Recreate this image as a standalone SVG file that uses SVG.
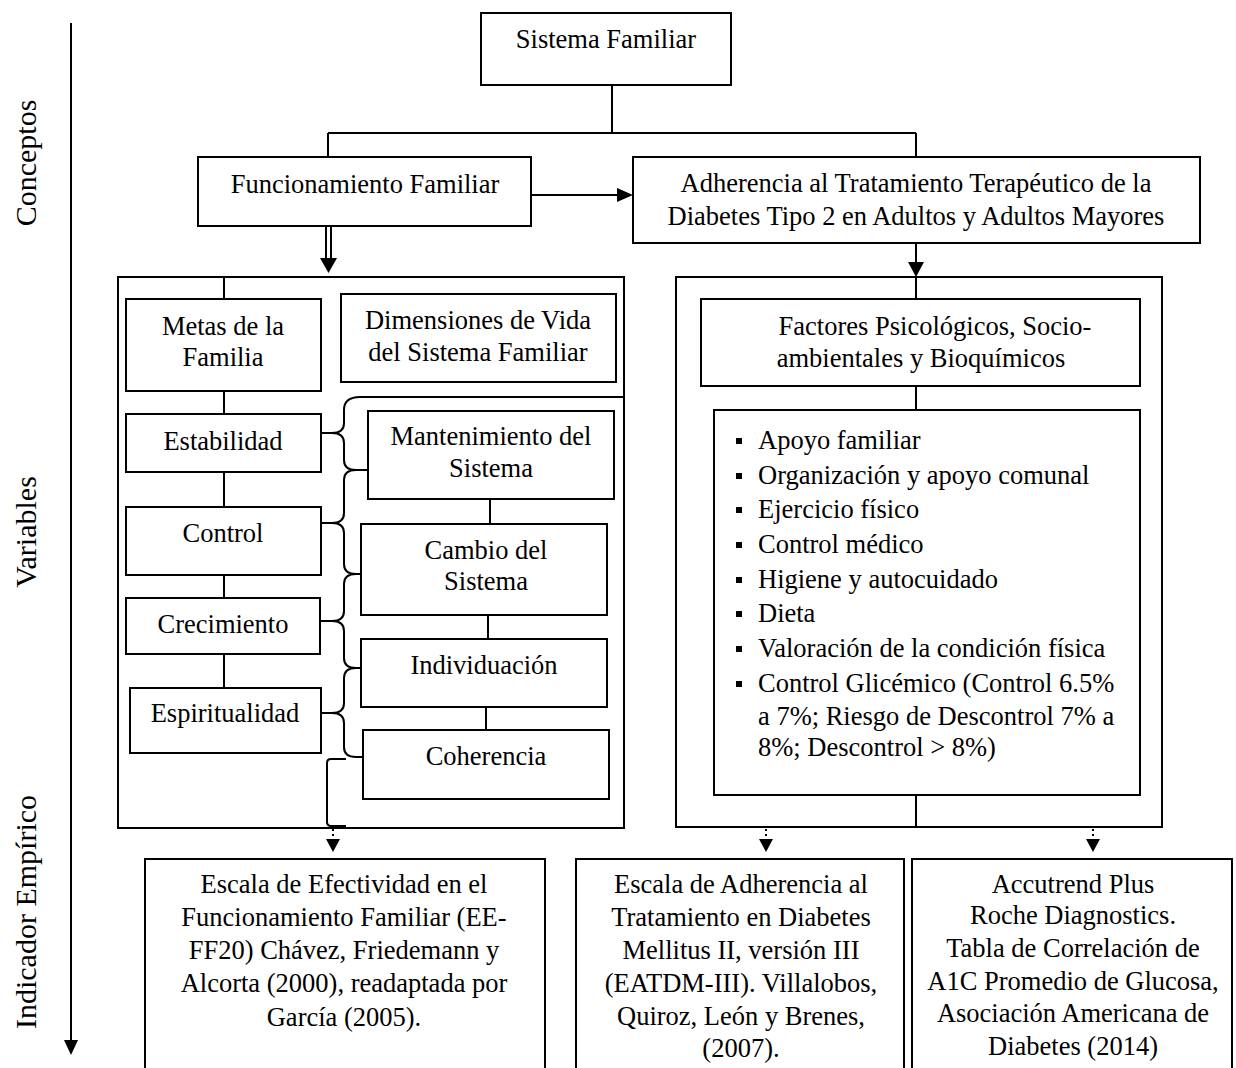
<svg xmlns="http://www.w3.org/2000/svg" width="1236" height="1068" viewBox="0 0 1236 1068">
<style>
.b{fill:#fff;stroke:#000;stroke-width:2}
.l{fill:none;stroke:#000;stroke-width:2}
.d{fill:none;stroke:#000;stroke-width:2;stroke-dasharray:2 3}
.t{font-family:"Liberation Serif","Times New Roman",serif;font-size:26.5px;fill:#000}
.c{text-anchor:middle}
.ax{font-family:"Liberation Serif","Times New Roman",serif;font-size:30px;fill:#000;text-anchor:middle}
.h{fill:#000}
</style>
<rect width="1236" height="1068" fill="#fff"/>

<g id="axis">
<line x1="71" y1="23" x2="71" y2="1042" class="l"/>
<polygon points="64,1040 78,1040 71,1055" class="h"/>
<text class="ax" transform="translate(36,163) rotate(-90)">Conceptos</text>
<text class="ax" transform="translate(36,532) rotate(-90)">Variables</text>
<text class="ax" transform="translate(36,912) rotate(-90)">Indicador Empírico</text>
</g>

<g id="connectors">
<path class="l" d="M612 85 V133 M328 133 H916 M328 133 V157 M916 133 V157"/>
<line x1="531" y1="195" x2="619" y2="195" class="l"/>
<polygon points="617,188 633,195 617,202" class="h"/>
<path class="l" d="M326 226 V259 M331 226 V259"/>
<polygon points="320,258 337,258 328.5,273" class="h"/>
<line x1="916" y1="243" x2="916" y2="263" class="l"/>
<polygon points="908,262 924,262 916,277" class="h"/>
<path class="l" d="M224 277 V299 M224 391 V414 M224 472 V507 M224 575 V598 M224 654 V688"/>
<path class="l" d="M490 499 V524 M488 615 V639 M486 707 V730"/>
<path class="l" d="M916 277 V299 M916 386 V410 M916 795 V827"/>
<path class="l" d="M624 397 L360 397 Q344 397 344 410 L344 423 Q344 433 332 433 L322 433 M332 433 Q344 433 344 443 L344 460 Q344 470 356 470 L368 470 M356 470 Q344 470 344 480 L344 513 Q344 523 332 523 L322 523 M332 523 Q344 523 344 533 L344 564 Q344 574 356 574 L361 574 M356 574 Q344 574 344 584 L344 611 Q344 621 332 621 L320 621 M332 621 Q344 621 344 631 L344 658 Q344 668 356 668 L361 668 M356 668 Q344 668 344 678 L344 703 Q344 713 332 713 L322 713 M332 713 Q344 713 344 723 L344 747 Q344 757 356 757 L363 757"/>
<path class="l" d="M346 759 L331 759 Q327 759 327 763 L327 822 Q327 826 331 826 L346 826"/>
<line x1="333" y1="829" x2="333" y2="840" class="d"/>
<polygon points="326,839 340,839 333,852" class="h"/>
<line x1="766" y1="829" x2="766" y2="840" class="d"/>
<polygon points="759,839 773,839 766,852" class="h"/>
<line x1="1093" y1="829" x2="1093" y2="840" class="d"/>
<polygon points="1086,839 1100,839 1093,852" class="h"/>
</g>

<g id="sistema-familiar">
<rect x="481" y="13" width="250" height="72" class="b"/>
<text class="t c" x="606" y="48">Sistema Familiar</text>
</g>

<g id="funcionamiento-familiar">
<rect x="198" y="157" width="333" height="69" class="b"/>
<text class="t c" x="365" y="193">Funcionamiento Familiar</text>
</g>

<g id="adherencia">
<rect x="633" y="157" width="567" height="86" class="b"/>
<text class="t c" x="916" y="192">Adherencia al Tratamiento Terapéutico de la</text>
<text class="t c" x="916" y="225">Diabetes Tipo 2 en Adultos y Adultos Mayores</text>
</g>

<g id="panel-izquierdo">
<rect x="118" y="277" width="506" height="551" class="l"/>
</g>

<g id="metas">
<rect x="126" y="299" width="195" height="92" class="b"/>
<text class="t c" x="223" y="335">Metas de la</text>
<text class="t c" x="223" y="366">Familia</text>
</g>

<g id="dimensiones">
<rect x="341" y="294" width="275" height="88" class="b"/>
<text class="t c" x="478" y="329">Dimensiones de Vida</text>
<text class="t c" x="478" y="361">del Sistema Familiar</text>
</g>

<g id="estabilidad">
<rect x="126" y="414" width="195" height="58" class="b"/>
<text class="t c" x="223" y="450">Estabilidad</text>
</g>

<g id="control">
<rect x="126" y="507" width="195" height="68" class="b"/>
<text class="t c" x="223" y="542">Control</text>
</g>

<g id="crecimiento">
<rect x="126" y="598" width="194" height="56" class="b"/>
<text class="t c" x="223" y="633">Crecimiento</text>
</g>

<g id="espiritualidad">
<rect x="130" y="688" width="191" height="65" class="b"/>
<text class="t c" x="225" y="722">Espiritualidad</text>
</g>

<g id="mantenimiento">
<rect x="368" y="411" width="246" height="88" class="b"/>
<text class="t c" x="491" y="445">Mantenimiento del</text>
<text class="t c" x="491" y="477">Sistema</text>
</g>

<g id="cambio">
<rect x="361" y="524" width="246" height="91" class="b"/>
<text class="t c" x="486" y="559">Cambio del</text>
<text class="t c" x="486" y="590">Sistema</text>
</g>

<g id="individuacion">
<rect x="361" y="639" width="246" height="68" class="b"/>
<text class="t c" x="484" y="674">Individuación</text>
</g>

<g id="coherencia">
<rect x="363" y="730" width="246" height="69" class="b"/>
<text class="t c" x="486" y="765">Coherencia</text>
</g>

<g id="panel-derecho">
<rect x="676" y="277" width="486" height="550" class="l"/>
</g>

<g id="factores">
<rect x="701" y="299" width="439" height="87" class="b"/>
<text class="t c" x="935" y="335">Factores Psicológicos, Socio-</text>
<text class="t c" x="921" y="367">ambientales y Bioquímicos</text>
</g>

<g id="lista-factores">
<rect x="714" y="410" width="426" height="385" class="b"/>
<rect x="736" y="438" width="6" height="6" class="h"/>
<rect x="736" y="473" width="6" height="6" class="h"/>
<rect x="736" y="507" width="6" height="6" class="h"/>
<rect x="736" y="542" width="6" height="6" class="h"/>
<rect x="736" y="577" width="6" height="6" class="h"/>
<rect x="736" y="611" width="6" height="6" class="h"/>
<rect x="736" y="646" width="6" height="6" class="h"/>
<rect x="736" y="681" width="6" height="6" class="h"/>
<text class="t" x="758" y="449">Apoyo familiar</text>
<text class="t" x="758" y="484">Organización y apoyo comunal</text>
<text class="t" x="758" y="518">Ejercicio físico</text>
<text class="t" x="758" y="553">Control médico</text>
<text class="t" x="758" y="588">Higiene y autocuidado</text>
<text class="t" x="758" y="622">Dieta</text>
<text class="t" x="758" y="657">Valoración de la condición física</text>
<text class="t" x="758" y="692">Control Glicémico (Control 6.5%</text>
<text class="t" x="758" y="725">a 7%; Riesgo de Descontrol 7% a</text>
<text class="t" x="758" y="756">8%; Descontrol &gt; 8%)</text>
</g>

<g id="escala-efectividad">
<rect x="145" y="859" width="400" height="230" class="b"/>
<text class="t c" x="344" y="893">Escala de Efectividad en el</text>
<text class="t c" x="344" y="926">Funcionamiento Familiar (EE-</text>
<text class="t c" x="344" y="959">FF20) Chávez, Friedemann y</text>
<text class="t c" x="344" y="992">Alcorta (2000), readaptada por</text>
<text class="t c" x="344" y="1026">García (2005).</text>
</g>

<g id="escala-adherencia">
<rect x="576" y="859" width="328" height="230" class="b"/>
<text class="t c" x="741" y="893">Escala de Adherencia al</text>
<text class="t c" x="741" y="926">Tratamiento en Diabetes</text>
<text class="t c" x="741" y="959">Mellitus II, versión III</text>
<text class="t c" x="741" y="992">(EATDM-III). Villalobos,</text>
<text class="t c" x="741" y="1025">Quiroz, León y Brenes,</text>
<text class="t c" x="741" y="1057">(2007).</text>
</g>

<g id="accutrend">
<rect x="912" y="859" width="320" height="230" class="b"/>
<text class="t c" x="1073" y="893">Accutrend Plus</text>
<text class="t c" x="1073" y="924">Roche Diagnostics.</text>
<text class="t c" x="1073" y="957">Tabla de Correlación de</text>
<text class="t c" x="1073" y="990">A1C Promedio de Glucosa,</text>
<text class="t c" x="1073" y="1022">Asociación Americana de</text>
<text class="t c" x="1073" y="1055">Diabetes (2014)</text>
</g>
</svg>
